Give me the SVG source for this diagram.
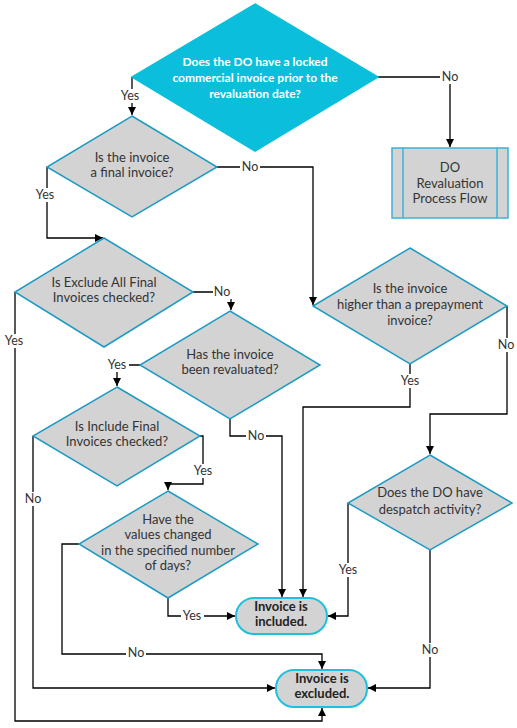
<svg xmlns="http://www.w3.org/2000/svg" width="517" height="728" viewBox="0 0 517 728">
<style>
.d{fill:#d3d3d3;stroke:#1d9bc4;stroke-width:1.5}
.t{font-family:Lato,"Liberation Sans",sans-serif;font-size:13px;fill:#333;text-anchor:middle}
.l{font-family:Lato,"Liberation Sans",sans-serif;font-size:12.5px;fill:#333;text-anchor:middle}
.w{fill:#fff;font-weight:bold;font-size:12px}
.b{font-weight:bold;fill:#222}
.c{fill:none;stroke:#000;stroke-width:1.3}
.a{marker-end:url(#ar)}
.lb{fill:#fff}
.term{fill:#d3d3d3;stroke:#1fc0dc;stroke-width:2}
</style>
<defs>
<marker id="ar" viewBox="0 0 10 10" refX="10" refY="5" markerWidth="8" markerHeight="8" markerUnits="userSpaceOnUse" orient="auto">
<path d="M0,0L10,5L0,10z" fill="#000"/>
</marker>
</defs>
<rect width="517" height="728" fill="#fff"/>
<g id="connectors">
<path class="c a" d="M132,77V115"/>
<path class="c a" d="M378,77H450V147"/>
<path class="c a" d="M217,167H313V305"/>
<path class="c a" d="M47,167V238H103"/>
<path class="c a" d="M193,292H231V310"/>
<path class="c a" d="M15,292V721H322V708"/>
<path class="c a" d="M140,365H117V386"/>
<path class="c a" d="M230,419V436H282V597"/>
<path class="c a" d="M410,364V407H303V597"/>
<path class="c a" d="M507,306V414H430V454"/>
<path class="c a" d="M200,436H203V484H168V490"/>
<path class="c a" d="M33,436V688H275"/>
<path class="c a" d="M79,544H62V654H322V669"/>
<path class="c a" d="M168,598V616H235"/>
<path class="c a" d="M348,503V616H328"/>
<path class="c a" d="M430,550V688H368"/>
<g class="l">
<rect class="lb" x="119" y="89" width="23" height="14"/><text x="130" y="100">Yes</text>
<rect class="lb" x="440" y="70" width="20" height="14"/><text x="450" y="81">No</text>
<rect class="lb" x="240" y="160" width="20" height="14"/><text x="250" y="171">No</text>
<rect class="lb" x="34" y="188" width="23" height="14"/><text x="45" y="199">Yes</text>
<rect class="lb" x="213" y="285" width="20" height="14"/><text x="222" y="296">No</text>
<rect class="lb" x="3" y="334" width="23" height="14"/><text x="14" y="345">Yes</text>
<rect class="lb" x="106" y="358" width="23" height="14"/><text x="117" y="369">Yes</text>
<rect class="lb" x="246" y="429" width="20" height="14"/><text x="256" y="440">No</text>
<rect class="lb" x="399" y="374" width="23" height="14"/><text x="410" y="385">Yes</text>
<rect class="lb" x="496" y="338" width="20" height="14"/><text x="506" y="349">No</text>
<rect class="lb" x="192" y="464" width="23" height="14"/><text x="203" y="475">Yes</text>
<rect class="lb" x="23" y="492" width="20" height="14"/><text x="33" y="503">No</text>
<rect class="lb" x="126" y="646" width="20" height="14"/><text x="136" y="657">No</text>
<rect class="lb" x="181" y="609" width="23" height="14"/><text x="192" y="620">Yes</text>
<rect class="lb" x="337" y="563" width="23" height="14"/><text x="348" y="574">Yes</text>
<rect class="lb" x="420" y="643" width="20" height="14"/><text x="430" y="654">No</text>
</g>
</g>
<g id="n1">
<polygon points="255,4 378,77 255,151 132,77" fill="#0bbfdc" stroke="#0bbfdc" stroke-width="1.5"/>
<text class="t w" x="255" y="66">Does the DO have a locked</text>
<text class="t w" x="255" y="82">commercial invoice prior to the</text>
<text class="t w" x="255" y="98">revaluation date?</text>
</g>
<g id="n2">
<rect x="392" y="148" width="116" height="70" fill="#d3d3d3" stroke="#3ab4d4" stroke-width="1.5"/>
<line x1="403" y1="148" x2="403" y2="218" stroke="#3ab4d4" stroke-width="1.5"/>
<line x1="497" y1="148" x2="497" y2="218" stroke="#3ab4d4" stroke-width="1.5"/>
<text class="t" x="450" y="172">DO</text>
<text class="t" x="450" y="188">Revaluation</text>
<text class="t" x="450" y="203">Process Flow</text>
</g>
<g id="n3">
<polygon class="d" points="132,116 217,167 132,217 47,167"/>
<text class="t" x="132" y="162">Is the invoice</text>
<text class="t" x="132" y="177">a final invoice?</text>
</g>
<g id="n4">
<polygon class="d" points="104,238 193,292 104,347 15,292"/>
<text class="t" x="104" y="287">Is Exclude All Final</text>
<text class="t" x="104" y="302">Invoices checked?</text>
</g>
<g id="n5">
<polygon class="d" points="410,248 507,306 410,364 313,306"/>
<text class="t" x="410" y="293">Is the invoice</text>
<text class="t" x="410" y="309">higher than a prepayment</text>
<text class="t" x="410" y="325">invoice?</text>
</g>
<g id="n6">
<polygon class="d" points="230,311 320,365 230,419 140,365"/>
<text class="t" x="230" y="359">Has the invoice</text>
<text class="t" x="230" y="374">been revaluated?</text>
</g>
<g id="n7">
<polygon class="d" points="117,387 200,436 117,486 33,436"/>
<text class="t" x="117" y="431">Is Include Final</text>
<text class="t" x="117" y="446">Invoices checked?</text>
</g>
<g id="n8">
<polygon class="d" points="168,491 258,544 168,598 79,544"/>
<text class="t" x="168" y="524">Have the</text>
<text class="t" x="168" y="539">values changed</text>
<text class="t" x="168" y="555">in the specified number</text>
<text class="t" x="168" y="570">of days?</text>
</g>
<g id="n9">
<polygon class="d" points="430,455 512,503 430,550 348,503"/>
<text class="t" x="430" y="497">Does the DO have</text>
<text class="t" x="430" y="514">despatch activity?</text>
</g>
<g id="n10">
<rect class="term" x="236" y="598" width="91" height="36" rx="18"/>
<text class="t b" x="281" y="611">Invoice is</text>
<text class="t b" x="281" y="626">included.</text>
</g>
<g id="n11">
<rect class="term" x="276" y="670" width="91" height="37" rx="18"/>
<text class="t b" x="322" y="683">Invoice is</text>
<text class="t b" x="322" y="698">excluded.</text>
</g>
</svg>
